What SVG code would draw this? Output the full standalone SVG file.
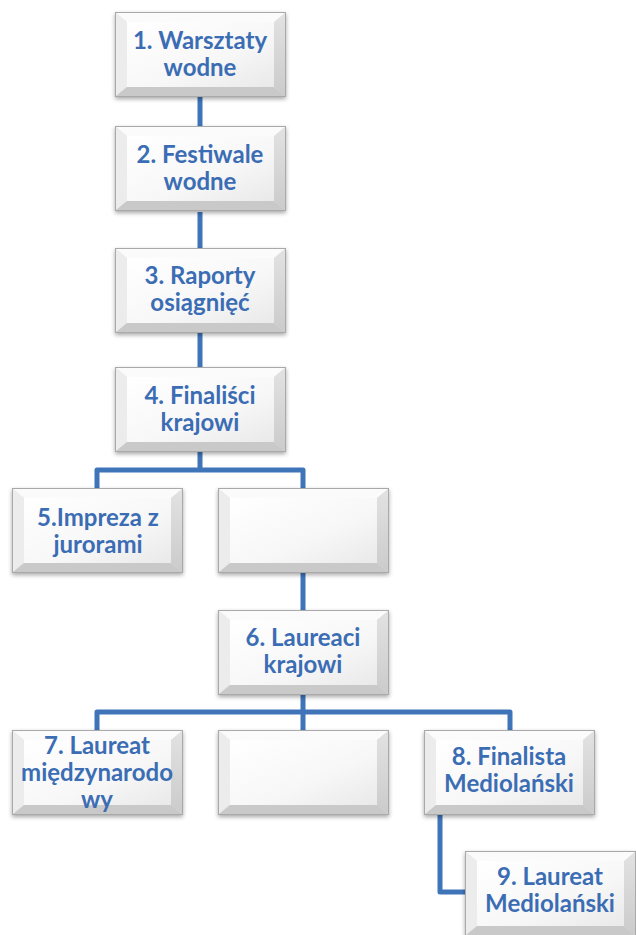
<svg xmlns="http://www.w3.org/2000/svg" xmlns:xlink="http://www.w3.org/1999/xlink" width="636" height="935" viewBox="0 0 636 935">
<style>
.lbl{font-family:"Lato","Liberation Sans",sans-serif;font-weight:700;font-size:24px;fill:#3b6db4;text-anchor:middle}
.con{fill:none;stroke:#3f74b9;stroke-width:5;stroke-linejoin:round;stroke-linecap:butt}
.box{filter:url(#sh)}
</style>
<defs>
<filter id="sh" x="-10%" y="-10%" width="125%" height="130%">
<feDropShadow dx="0" dy="2" stdDeviation="2" flood-color="#000" flood-opacity="0.35"/>
</filter>
<linearGradient id="face" x1="0" y1="0" x2="1" y2="1">
<stop offset="0" stop-color="#ffffff"/>
<stop offset="0.6" stop-color="#f7f7f7"/>
<stop offset="1" stop-color="#e9e9e9"/>
</linearGradient>
<linearGradient id="rf" x1="0" y1="0" x2="0" y2="1">
<stop offset="0" stop-color="#e2e2e2"/>
<stop offset="1" stop-color="#cbcbcb"/>
</linearGradient>
<symbol id="bevel" viewBox="0 0 171 85" width="171" height="85">
<rect x="0.5" y="0.5" width="170" height="84" fill="#e6e6e6" stroke="#a9a9a9" stroke-width="1"/>
<polygon points="1,1 170,1 159,10 12,10" fill="#fbfbfb"/>
<polygon points="1,1 12,10 12,75 1,84" fill="#ececec"/>
<polygon points="170,1 170,84 159,75 159,10" fill="url(#rf)"/>
<polygon points="1,84 12,75 159,75 170,84" fill="#c9c9c9"/>
<rect x="12" y="10" width="147" height="65" fill="url(#face)"/>
</symbol>
</defs>
<g id="connectors">
<path class="con" d="M200,97 V127"/>
<path class="con" d="M200,212 V248"/>
<path class="con" d="M200,333 V367"/>
<path class="con" d="M200,452 V470"/>
<path class="con" d="M97,490 V470 H303 V490"/>
<path class="con" d="M303,573 V610"/>
<path class="con" d="M303,695 V732"/>
<path class="con" d="M97,732 V712 H510 V732"/>
<path class="con" d="M440,815 V892 H467"/>
</g>
<g id="n1"><use class="box" href="#bevel" x="115" y="12"/><text class="lbl" x="200" y="49">1. Warsztaty</text><text class="lbl" x="200" y="76">wodne</text></g>
<g id="n2"><use class="box" href="#bevel" x="115" y="126"/><text class="lbl" x="200" y="163">2. Festiwale</text><text class="lbl" x="200" y="190">wodne</text></g>
<g id="n3"><use class="box" href="#bevel" x="115" y="248"/><text class="lbl" x="200" y="284">3. Raporty</text><text class="lbl" x="200" y="311">osiągnięć</text></g>
<g id="n4"><use class="box" href="#bevel" x="115" y="367"/><text class="lbl" x="200" y="404">4. Finaliści</text><text class="lbl" x="200" y="431">krajowi</text></g>
<g id="n5"><use class="box" href="#bevel" x="12" y="488"/><text class="lbl" x="98" y="526">5.Impreza z</text><text class="lbl" x="98" y="553">jurorami</text></g>
<g id="n5b"><use class="box" href="#bevel" x="218" y="488"/></g>
<g id="n6"><use class="box" href="#bevel" x="218" y="610"/><text class="lbl" x="303" y="646">6. Laureaci</text><text class="lbl" x="303" y="673">krajowi</text></g>
<g id="n7"><use class="box" href="#bevel" x="12" y="730"/><text class="lbl" x="97" y="754">7. Laureat</text><text class="lbl" x="97" y="781">międzynarodo</text><text class="lbl" x="97" y="808">wy</text></g>
<g id="n7b"><use class="box" href="#bevel" x="218" y="730"/></g>
<g id="n8"><use class="box" href="#bevel" x="424" y="730"/><text class="lbl" x="509" y="765">8. Finalista</text><text class="lbl" x="509" y="792">Mediolański</text></g>
<g id="n9"><use class="box" href="#bevel" x="465" y="851"/><text class="lbl" x="550" y="885">9. Laureat</text><text class="lbl" x="550" y="912">Mediolański</text></g>
</svg>
